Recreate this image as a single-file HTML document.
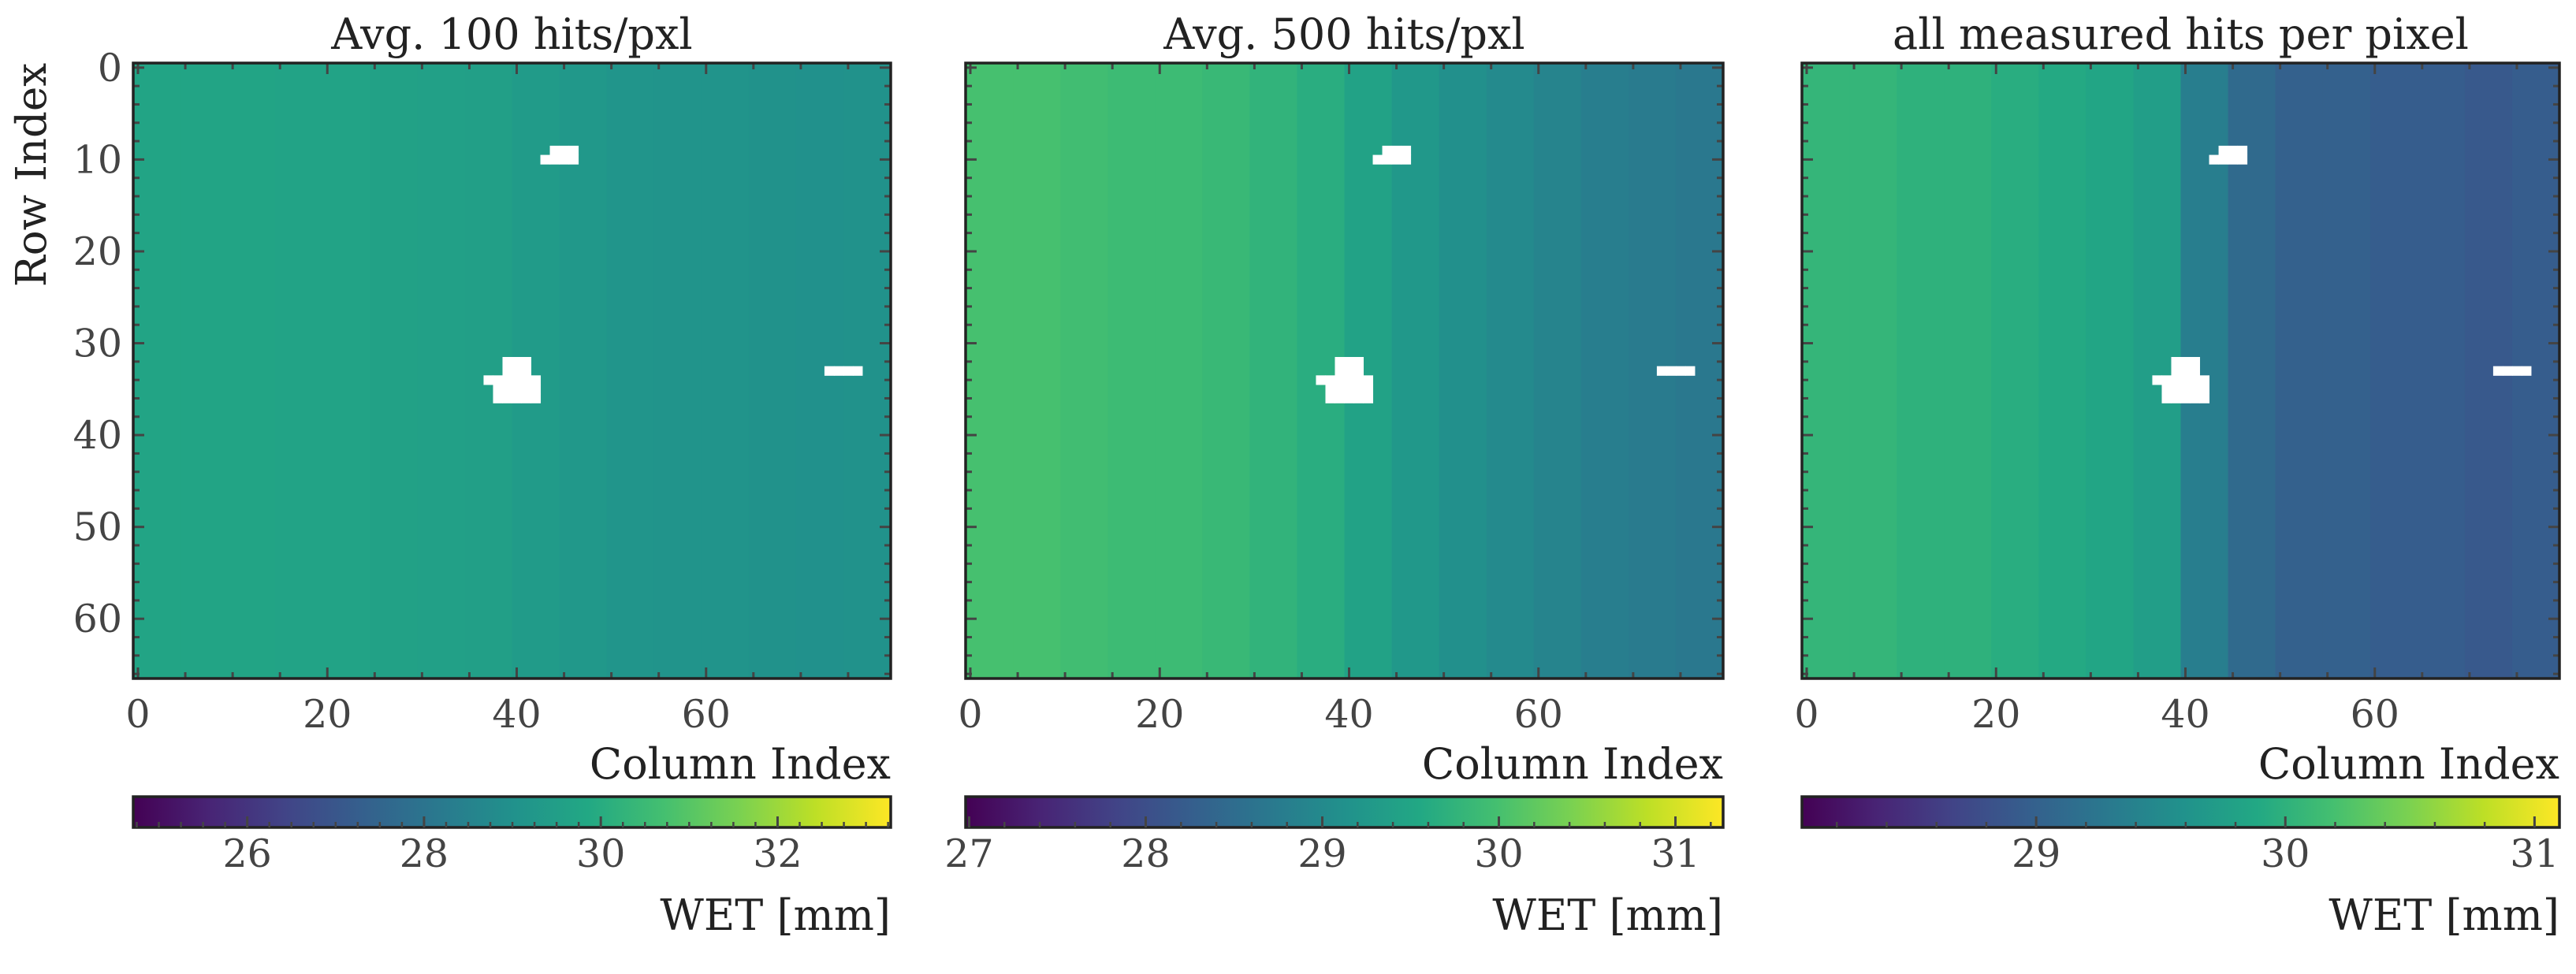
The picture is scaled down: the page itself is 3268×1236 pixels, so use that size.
<!DOCTYPE html>
<html><head><meta charset="utf-8"><style>
html,body{margin:0;padding:0;background:#fff;}
svg{display:block;font-family:"DejaVu Serif","Liberation Serif",serif;}
</style></head><body>
<svg id="fig" width="3268" height="1236" viewBox="0 0 3268 1236" xmlns="http://www.w3.org/2000/svg"></svg>
<script>
// ---- data ----
const titles = ["Avg. 100 hits/pxl", "Avg. 500 hits/pxl", "all measured hits per pixel"];
const blockCols = [0,5,10,15,20,25,30,35,40,45,50,55,60,65,70,75];
const wetP1 = [29.7,29.7,29.7,29.65,29.65,29.6,29.55,29.5,29.35,29.25,29.15,29.1,29.1,29.05,29.0,29.05];
const wetP2 = [30.0,30.0,29.95,29.9,29.9,29.85,29.75,29.65,29.45,29.25,29.1,29.0,28.9,28.8,28.75,28.7];
const wetP3 = [30.05,30.05,30.0,30.0,29.95,29.9,29.85,29.75,29.35,29.1,29.0,29.0,28.95,28.95,28.9,28.95];
const vmin = [24.71, 26.98, 28.06];
const vmax = [33.28, 31.27, 31.10];
const cbTicks1 = [26,28,30,32];
const cbTicks2 = [27,28,29,30,31];
const cbTicks3 = [29,30,31];
const xTicks = [0,20,40,60];
const yTicks = [0,10,20,30,40,50,60];
// masked (NaN) cells: [col, row]
const maskCells = [[44,9],[45,9],[46,9],[43,10],[44,10],[45,10],[46,10],
 [39,32],[40,32],[41,32],[39,33],[40,33],[41,33],
 [37,34],[38,34],[39,34],[40,34],[41,34],[42,34],
 [38,35],[39,35],[40,35],[41,35],[42,35],[38,36],[39,36],[40,36],[41,36],[42,36],
 [73,33],[74,33],[75,33],[76,33]];

const NC = 80, NR = 67;
const panelLeft = [169, 1225, 2286];
const PW = 961, PT = 80, PH = 781;
const CBT = 1011, CBH = 39;
const VIR = ["#440154","#482475","#414487","#355f8d","#2a788e","#21918c","#22a884","#44bf70","#7ad151","#bddf26","#fde725"];
function hex(h){return [1,3,5].map(i=>parseInt(h.substr(i,2),16));}
function viridis(t){t=Math.max(0,Math.min(1,t));const s=t*10;const i=Math.min(9,Math.floor(s));const f=s-i;
 const a=hex(VIR[i]),b=hex(VIR[i+1]);return "rgb("+a.map((v,k)=>Math.round(v+(b[k]-v)*f)).join(",")+")";}
const NS="http://www.w3.org/2000/svg";
const svg=document.getElementById("fig");
function el(tag,attrs,parent,text){const e=document.createElementNS(NS,tag);for(const k in attrs)e.setAttribute(k,attrs[k]);if(text!==undefined)e.textContent=text;(parent||svg).appendChild(e);return e;}

const defs=el("defs",{});
const grad=el("linearGradient",{id:"vir",x1:"0",x2:"1",y1:"0",y2:"0"},defs);
VIR.forEach((c,i)=>el("stop",{offset:(i*10)+"%","stop-color":c},grad));

const data=[wetP1,wetP2,wetP3];
const cbTicks=[cbTicks1,cbTicks2,cbTicks3];
for(let p=0;p<3;p++){
 const L=panelLeft[p];
 const g=el("g",{});
 
 
 const xs=c=>L+(c+0.5)*PW/NC;
 const ys=r=>PT+(r+0.5)*PH/NR;
 const cw=PW/NC, rh=PH/NR;
 const norm=v=>(v-vmin[p])/(vmax[p]-vmin[p]);
 data[p].forEach((v,i)=>{
  const c0=blockCols[i], c1=(i+1<blockCols.length?blockCols[i+1]:NC);
  const r=el("rect",{x:xs(c0)-cw/2,y:PT,width:(c1-c0)*cw+0.5,height:PH,fill:viridis(norm(v))},g);
  
  
 });
 maskCells.forEach(m=>{
  const r=el("rect",{x:xs(m[0])-cw/2,y:ys(m[1])-rh/2,width:cw+0.5,height:rh+0.5,fill:"#fff"},g);
  
  
 });
 for(let c=0;c<NC;c+=5){const maj=c%20===0;const x=xs(c);
  el("line",{x1:x,x2:x,y1:PT+PH,y2:PT+PH-(maj?14:8),stroke:"#444","stroke-width":3},g);
  el("line",{x1:x,x2:x,y1:PT,y2:PT+(maj?14:8),stroke:"#444","stroke-width":3},g);}
 for(let r=0;r<NR;r+=2){const maj=r%10===0;const y=ys(r);
  el("line",{x1:L,x2:L+(maj?14:8),y1:y,y2:y,stroke:"#444","stroke-width":3},g);
  el("line",{x1:L+PW,x2:L+PW-(maj?14:8),y1:y,y2:y,stroke:"#444","stroke-width":3},g);}
 el("rect",{x:L,y:PT,width:PW,height:PH,fill:"none",stroke:"#222","stroke-width":3.5},g);
 xTicks.forEach(t=>{const tx=el("text",{x:xs(t),y:PT+PH+62,"text-anchor":"middle","font-size":49,fill:"#444"},g,String(t));
  });
 if(p===0){yTicks.forEach(t=>{const ty=el("text",{x:L-14,y:ys(t)+17,"text-anchor":"end","font-size":49,fill:"#444"},g,String(t));
  });
  const yl=el("text",{x:58,y:222,"text-anchor":"middle","font-size":53,fill:"#222",transform:"rotate(-90 58 222)"},g,"Row Index");
  }
 const tt=el("text",{x:L+PW/2,y:62,"text-anchor":"middle","font-size":54,fill:"#222"},g,titles[p]);
 
 const xl=el("text",{x:L+PW,y:988,"text-anchor":"end","font-size":54,fill:"#222"},g,"Column Index");
 
 const cb=el("rect",{x:L,y:CBT,width:PW,height:CBH,fill:"url(#vir)",stroke:"#222","stroke-width":3.5},g);
 
 const cx=v=>L+norm(v)*PW;
 const step=(vmax[p]-vmin[p])>5?0.25:0.2;
 for(let v=Math.ceil(vmin[p]/step)*step;v<=vmax[p];v+=step){
  el("line",{x1:cx(v),x2:cx(v),y1:CBT+CBH,y2:CBT+CBH-7,stroke:"#444","stroke-width":2.5},g);}
 cbTicks[p].forEach(t=>{
  el("line",{x1:cx(t),x2:cx(t),y1:CBT+CBH,y2:CBT+CBH-14,stroke:"#444","stroke-width":3},g);
  const ct=el("text",{x:cx(t),y:1100,"text-anchor":"middle","font-size":49,fill:"#444"},g,String(t));
  });
 const wl=el("text",{x:L+PW,y:1180,"text-anchor":"end","font-size":54,fill:"#222"},g,"WET [mm]");
 
}
</script>
</body></html>
